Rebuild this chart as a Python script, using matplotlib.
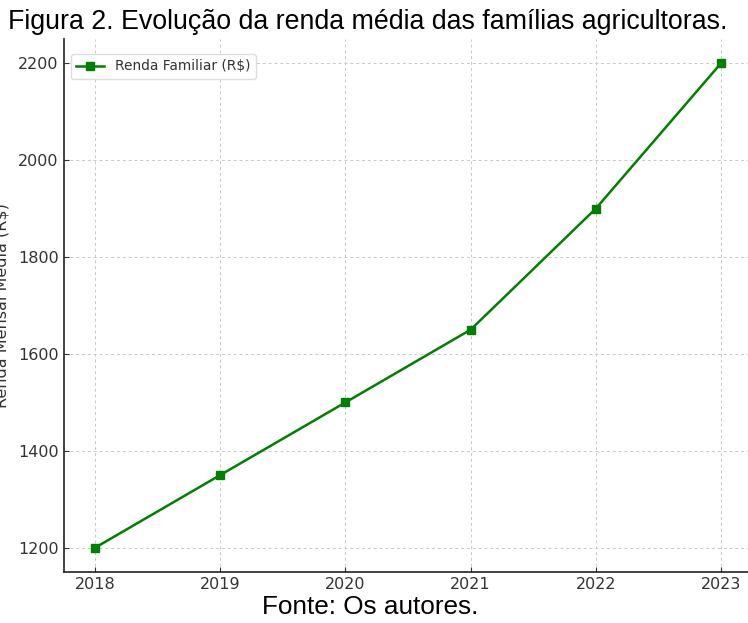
import matplotlib
matplotlib.use("Agg")
import matplotlib.pyplot as plt

# Average monthly income of farming families, per year
anos = [2018, 2019, 2020, 2021, 2022, 2023]
renda = [1200, 1350, 1500, 1650, 1900, 2200]

W, H = 748, 623
fig = plt.figure(figsize=(W / 100, H / 100), dpi=100)

# axes in pixel terms, converted to figure fractions
left, right, top, bottom = 63.7, 752.3, 39, 572
ax = fig.add_axes([left / W, 1 - bottom / H, (right - left) / W, (bottom - top) / H])

ax.plot(anos, renda, color='green', marker='s', markersize=6, linewidth=1.8,
        label='Renda Familiar (R$)')

ax.set_xlim(2017.75, 2023.25)
ax.set_ylim(1150, 2250)
ax.set_yticks([1200, 1400, 1600, 1800, 2000, 2200])
ax.set_xticks(anos)
ax.tick_params(labelsize=11.5, labelcolor='#333333', direction='in', color='#333333')
ax.grid(True, linestyle=(0, (3, 3)), color='#c8c8c8', linewidth=0.7)
ax.spines['top'].set_visible(False)
ax.spines['right'].set_visible(False)
for side in ('left', 'bottom'):
    ax.spines[side].set_linewidth(1.2)
    ax.spines[side].set_color('#222222')

ax.set_ylabel('Renda Mensal Média (R$)', fontsize=11.5, color='#333333')
ax.yaxis.set_label_coords((10 - left) / (right - left), 0.5)

leg = ax.legend(loc='upper left', fontsize=9.9, bbox_to_anchor=(0.0, 0.985),
                framealpha=1, edgecolor='#dddddd')
for t in leg.get_texts():
    t.set_color('#333333')

fig.text(0.492, 1 - 22 / H, 'Figura 2. Evolução da renda média das famílias agricultoras.',
         ha='center', va='center', fontsize=19.3, family='Liberation Sans')
fig.text(370 / W, 1 - 607 / H, 'Fonte: Os autores.',
         ha='center', va='center', fontsize=18.8, family='Liberation Sans')

fig.savefig('out.png', dpi=100)
